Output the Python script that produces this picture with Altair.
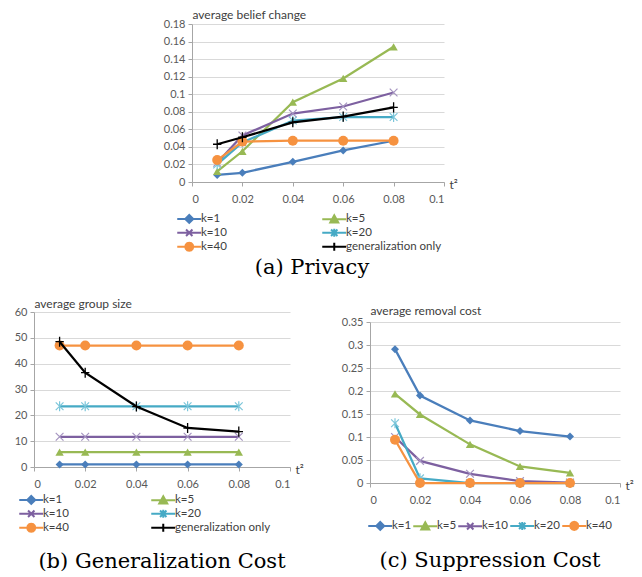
import altair as alt
import pandas as pd

# ---------------- data ----------------
x_vals = [0.01, 0.02, 0.04, 0.06, 0.08]

names6 = ["k=1", "k=5", "k=10", "k=20", "k=40", "generalization only"]
names5 = ["k=1", "k=5", "k=10", "k=20", "k=40"]
# legend order (entries fill column by column)
legend6 = ["k=1", "k=10", "k=40", "k=5", "k=20", "generalization only"]

# (a) Privacy: average belief change
a_k1 = [0.008, 0.0105, 0.023, 0.036, 0.047]
a_k5 = [0.012, 0.035, 0.091, 0.118, 0.154]
a_k10 = [0.022, 0.053, 0.078, 0.086, 0.102]
a_k20 = [0.020, 0.045, 0.070, 0.074, 0.074]
a_k40 = [0.025, 0.046, 0.047, 0.047, 0.047]
a_gen = [0.043, 0.051, 0.068, 0.0745, 0.085]

# (b) Generalization cost: average group size
b_k1 = [1.0, 1.0, 1.0, 1.0, 1.0]
b_k5 = [5.8, 5.8, 5.8, 5.8, 5.8]
b_k10 = [11.7, 11.7, 11.7, 11.7, 11.7]
b_k20 = [23.5, 23.5, 23.5, 23.5, 23.5]
b_k40 = [47.0, 47.0, 47.0, 47.0, 47.0]
b_gen = [48.5, 36.5, 23.4, 15.1, 13.7]

# (c) Suppression cost: average removal cost
c_k1 = [0.291, 0.19, 0.136, 0.113, 0.101]
c_k5 = [0.194, 0.149, 0.084, 0.036, 0.022]
c_k10 = [0.10, 0.048, 0.02, 0.004, 0.001]
c_k20 = [0.13, 0.01, 0.0, 0.0, 0.0]
c_k40 = [0.094, 0.0, 0.0, 0.0, 0.0]

x_ticks = [0, 0.02, 0.04, 0.06, 0.08, 0.1]
a_yticks = [0, 0.02, 0.04, 0.06, 0.08, 0.1, 0.12, 0.14, 0.16, 0.18]
b_yticks = [0, 10, 20, 30, 40, 50, 60]
c_yticks = [0, 0.05, 0.1, 0.15, 0.2, 0.25, 0.3, 0.35]

# ---------------- styles ----------------
FONT = "Lato"
TXT = "#404040"
colors = {
    "k=1": "#4A7EBB",
    "k=5": "#98B954",
    "k=10": "#7D60A0",
    "k=20": "#46AAC5",
    "k=40": "#F69240",
    "generalization only": "#000000",
}
marker = {
    "k=1": dict(shape="diamond", filled=True, size=64, strokeWidth=1),
    "k=5": dict(shape="triangle-up", filled=True, size=70, strokeWidth=1),
    "k=10": dict(shape="M-1,-1L1,1M-1,1L1,-1", filled=False, size=60, strokeWidth=1.2),
    "k=20": dict(shape="M-1,-1L1,1M-1,1L1,-1M0,-1.3L0,1.3", filled=False, size=60, strokeWidth=1.2),
    "k=40": dict(shape="circle", filled=True, size=100, strokeWidth=1),
    "generalization only": dict(shape="M-1,0L1,0M0,-1.2L0,1.2", filled=False, size=70, strokeWidth=1.3),
}
marker_color = {
    "k=1": "#4A7EBB",
    "k=5": "#98B954",
    "k=10": "#A594C0",
    "k=20": "#7CC6DA",
    "k=40": "#F69240",
    "generalization only": "#000000",
}
CIRCLE = ("M1,0L0.87,0.5L0.5,0.87L0,1L-0.5,0.87L-0.87,0.5L-1,0L-0.87,-0.5"
          "L-0.5,-0.87L0,-1L0.5,-0.87L0.87,-0.5Z")
legend_path = {
    "k=1": "M-3,0L3,0M0,-1L1,0L0,1L-1,0Z",
    "k=5": "M-3,0L3,0M0,-1L1,0.8L-1,0.8Z",
    "k=10": "M-3,0L3,0M-0.8,-0.8L0.8,0.8M-0.8,0.8L0.8,-0.8",
    "k=20": "M-3,0L3,0M-0.8,-0.8L0.8,0.8M-0.8,0.8L0.8,-0.8M0,-1L0,1",
    "k=40": "M-3,0L3,0M" + CIRCLE[1:],
    "generalization only": "M-3,0L3,0M0,-1L0,1",
}


def long_df(names, cols):
    rows = []
    for n, vals in zip(names, cols):
        for xv, yv in zip(x_vals, vals):
            rows.append({"t2": xv, "val": yv, "series": n})
    return pd.DataFrame(rows)


def panel(df, names, lnames, ymax, yticks, ytitle, ytitle_y, w, h, leg, caption, cap_offset, cap_dx):
    X = alt.X("t2:Q", scale=alt.Scale(domain=[0, 0.1], nice=False, zero=False),
              axis=alt.Axis(values=x_ticks, format="~r", title="t\u00b2", titleAngle=0,
                            titleAlign="left", titleBaseline="middle", titleX=w + 5, titleY=2,
                            titleFont=FONT, titleFontSize=12, titleFontWeight="normal",
                            titleColor=TXT, grid=False, domainColor="#a6a6a6",
                            tickColor="#a6a6a6", tickSize=4, labelPadding=7,
                            labelFont=FONT, labelFontSize=11, labelColor="#595959"))
    Y = alt.Y("val:Q", scale=alt.Scale(domain=[0, ymax], nice=False, zero=True),
              axis=alt.Axis(values=yticks, format="~r", title=ytitle, titleAngle=0,
                            titleAlign="left", titleBaseline="middle", titleX=0, titleY=ytitle_y,
                            titleFont=FONT, titleFontSize=12, titleFontWeight="normal",
                            titleColor=TXT, grid=True, gridColor="#d9d9d9",
                            domainColor="#a6a6a6", tickColor="#a6a6a6", tickSize=4,
                            labelPadding=3, labelFont=FONT, labelFontSize=11,
                            labelColor="#595959"))
    base = alt.Chart(df)
    layers = []
    for n in names:
        sub = base.transform_filter(alt.datum.series == n)
        layers.append(sub.mark_line(color=colors[n], strokeWidth=2.25)
                      .encode(x=X, y=Y, order="t2:Q"))
        m = marker[n]
        layers.append(sub.mark_point(shape=m["shape"], filled=m["filled"], size=m["size"],
                                     strokeWidth=m["strokeWidth"], color=marker_color[n],
                                     opacity=1)
                      .encode(x=X, y=Y))
    lg = alt.Legend(title=None, orient="none", legendX=leg["x"], legendY=leg["y"],
                    columns=leg["columns"], gridAlign=leg["grid"],
                    columnPadding=leg["colpad"], rowPadding=leg["rowpad"],
                    symbolSize=64, symbolStrokeWidth=2, symbolOffset=8,
                    labelOffset=6, labelFont=FONT, labelFontSize=11.5,
                    labelColor=TXT, labelLimit=0)
    crange = [colors[n] for n in lnames]
    dummy = (base.transform_filter("false").mark_point(filled=True, opacity=1)
             .encode(x=X, y=Y,
                     fill=alt.Fill("series:N", scale=alt.Scale(domain=lnames, range=crange), legend=lg),
                     stroke=alt.Stroke("series:N", scale=alt.Scale(domain=lnames, range=crange), legend=lg),
                     shape=alt.Shape("series:N", scale=alt.Scale(domain=lnames, range=[legend_path[n] for n in lnames]), legend=lg)))
    layers.append(dummy)
    return alt.layer(*layers).properties(
        width=w, height=h,
        title=alt.TitleParams(text=caption, orient="bottom", font="DejaVu Serif",
                              fontSize=21, fontWeight="normal", color="black",
                              anchor="middle", frame="group", offset=cap_offset, dx=cap_dx))


df_a = long_df(names6, [a_k1, a_k5, a_k10, a_k20, a_k40, a_gen])
df_b = long_df(names6, [b_k1, b_k5, b_k10, b_k20, b_k40, b_gen])
df_c = long_df(names5, [c_k1, c_k5, c_k10, c_k20, c_k40])

pa = panel(df_a, names6, legend6, 0.18, a_yticks, "average belief change", -10, 252, 158,
           dict(x=-16.5, y=189, columns=2, grid="all", colpad=21, rowpad=-4),
           "(a) Privacy", 2, -6)
pb = panel(df_b, names6, legend6, 60, b_yticks, "average group size", -9, 256, 155,
           dict(x=-16.5, y=182, columns=2, grid="all", colpad=8, rowpad=-4),
           "(b) Generalization Cost", 15, 0)
pc = panel(df_c, names5, names5, 0.35, c_yticks, "average removal cost", -12, 250, 161,
           dict(x=-3.5, y=198, columns=5, grid="each", colpad=-4.5, rowpad=-4),
           "(c) Suppression Cost", 16, -5)


def spacer(w, h):
    return alt.Chart(pd.DataFrame({"v": [0]})).mark_point(opacity=0, size=0).properties(width=w, height=h)


IND = dict(fill="independent", stroke="independent", shape="independent")
top = alt.hconcat(spacer(129, 1), pa, spacing=0).resolve_scale(**IND)
right = alt.vconcat(spacer(1, 10), pc, spacing=0, bounds="flush").resolve_scale(**IND)
bottom = alt.hconcat(pb, right, spacing=37).resolve_scale(**IND)
chart = (alt.vconcat(top, bottom, spacing=19)
         .resolve_scale(**IND)
         .properties(padding={"left": 6, "top": 0, "right": 0, "bottom": 0}, background="white")
         .configure_view(stroke=None))

chart.save("out.html", embed_options={"renderer": "svg", "actions": False})
